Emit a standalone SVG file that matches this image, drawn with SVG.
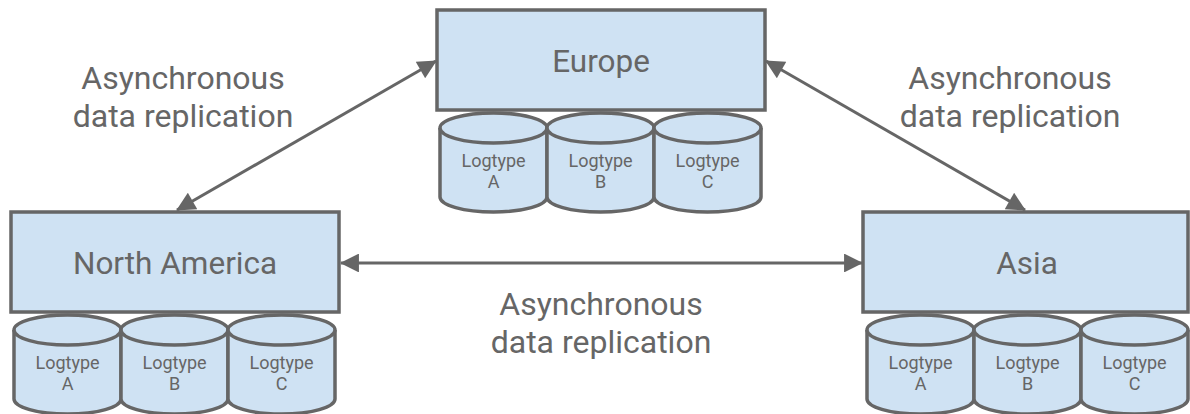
<svg xmlns="http://www.w3.org/2000/svg" xmlns:xlink="http://www.w3.org/1999/xlink" width="1190" height="414" viewBox="0 0 1190 414">
<style>
.box{fill:#cfe2f3;stroke:#666666;stroke-width:3.5}
.cyl{fill:#cfe2f3;stroke:#666666;stroke-width:3.5;stroke-linejoin:round}
.title{font-family:Roboto,"Liberation Sans",sans-serif;font-size:31.5px;fill:#666666;text-anchor:middle;dominant-baseline:central}
.lbl{font-family:Roboto,"Liberation Sans",sans-serif;font-size:32px;fill:#666666;text-anchor:middle}
.ct{font-family:Roboto,"Liberation Sans",sans-serif;font-size:18px;fill:#666666;text-anchor:middle}
.conn{stroke:#666666;stroke-width:3;fill:none;marker-start:url(#ah);marker-end:url(#ah)}
</style>
<defs>
<marker id="ah" viewBox="0 0 10 10" refX="9.5" refY="5" markerWidth="8" markerHeight="6.3" markerUnits="strokeWidth" orient="auto-start-reverse">
<path d="M0,0 L10,5 L0,10 Z" fill="#666666"/>
</marker>
<g id="cyl">
<path class="cyl" d="M0,15 A53.5,15 0 0 1 107,15 L107,84 A53.5,15 0 0 1 0,84 Z"/>
<path class="cyl" d="M0,15 A53.5,15 0 0 0 107,15" fill="none"/>
</g>
</defs>
<g id="connectors">
<line class="conn" x1="177" y1="210" x2="436" y2="61"/>
<line class="conn" x1="766" y1="61" x2="1025" y2="210"/>
<line class="conn" x1="341" y1="263" x2="862" y2="263"/>
</g>
<g id="labels">
<text class="lbl" x="183" y="89">Asynchronous</text>
<text class="lbl" x="183" y="127">data replication</text>
<text class="lbl" x="1010" y="89">Asynchronous</text>
<text class="lbl" x="1010" y="127">data replication</text>
<text class="lbl" x="601" y="315">Asynchronous</text>
<text class="lbl" x="601" y="353">data replication</text>
</g>
<g id="europe">
<rect class="box" x="437" y="10" width="328" height="100"/>
<text class="title" x="601" y="61">Europe</text>
</g>
<g id="europe-a"><use xlink:href="#cyl" x="440" y="113"/><text class="ct" x="493.5" y="167">Logtype</text><text class="ct" x="493.5" y="188">A</text></g>
<g id="europe-b"><use xlink:href="#cyl" x="547" y="113"/><text class="ct" x="600.5" y="167">Logtype</text><text class="ct" x="600.5" y="188">B</text></g>
<g id="europe-c"><use xlink:href="#cyl" x="654" y="113"/><text class="ct" x="707.5" y="167">Logtype</text><text class="ct" x="707.5" y="188">C</text></g>
<g id="north-america">
<rect class="box" x="11" y="212" width="328" height="100"/>
<text class="title" x="175" y="263">North America</text>
</g>
<g id="na-a"><use xlink:href="#cyl" x="14" y="315"/><text class="ct" x="67.5" y="369">Logtype</text><text class="ct" x="67.5" y="390">A</text></g>
<g id="na-b"><use xlink:href="#cyl" x="121" y="315"/><text class="ct" x="174.5" y="369">Logtype</text><text class="ct" x="174.5" y="390">B</text></g>
<g id="na-c"><use xlink:href="#cyl" x="228" y="315"/><text class="ct" x="281.5" y="369">Logtype</text><text class="ct" x="281.5" y="390">C</text></g>
<g id="asia">
<rect class="box" x="863" y="212" width="325" height="100"/>
<text class="title" x="1027" y="263">Asia</text>
</g>
<g id="asia-a"><use xlink:href="#cyl" x="867" y="315"/><text class="ct" x="920.5" y="369">Logtype</text><text class="ct" x="920.5" y="390">A</text></g>
<g id="asia-b"><use xlink:href="#cyl" x="974" y="315"/><text class="ct" x="1027.5" y="369">Logtype</text><text class="ct" x="1027.5" y="390">B</text></g>
<g id="asia-c"><use xlink:href="#cyl" x="1081" y="315"/><text class="ct" x="1134.5" y="369">Logtype</text><text class="ct" x="1134.5" y="390">C</text></g>
</svg>
